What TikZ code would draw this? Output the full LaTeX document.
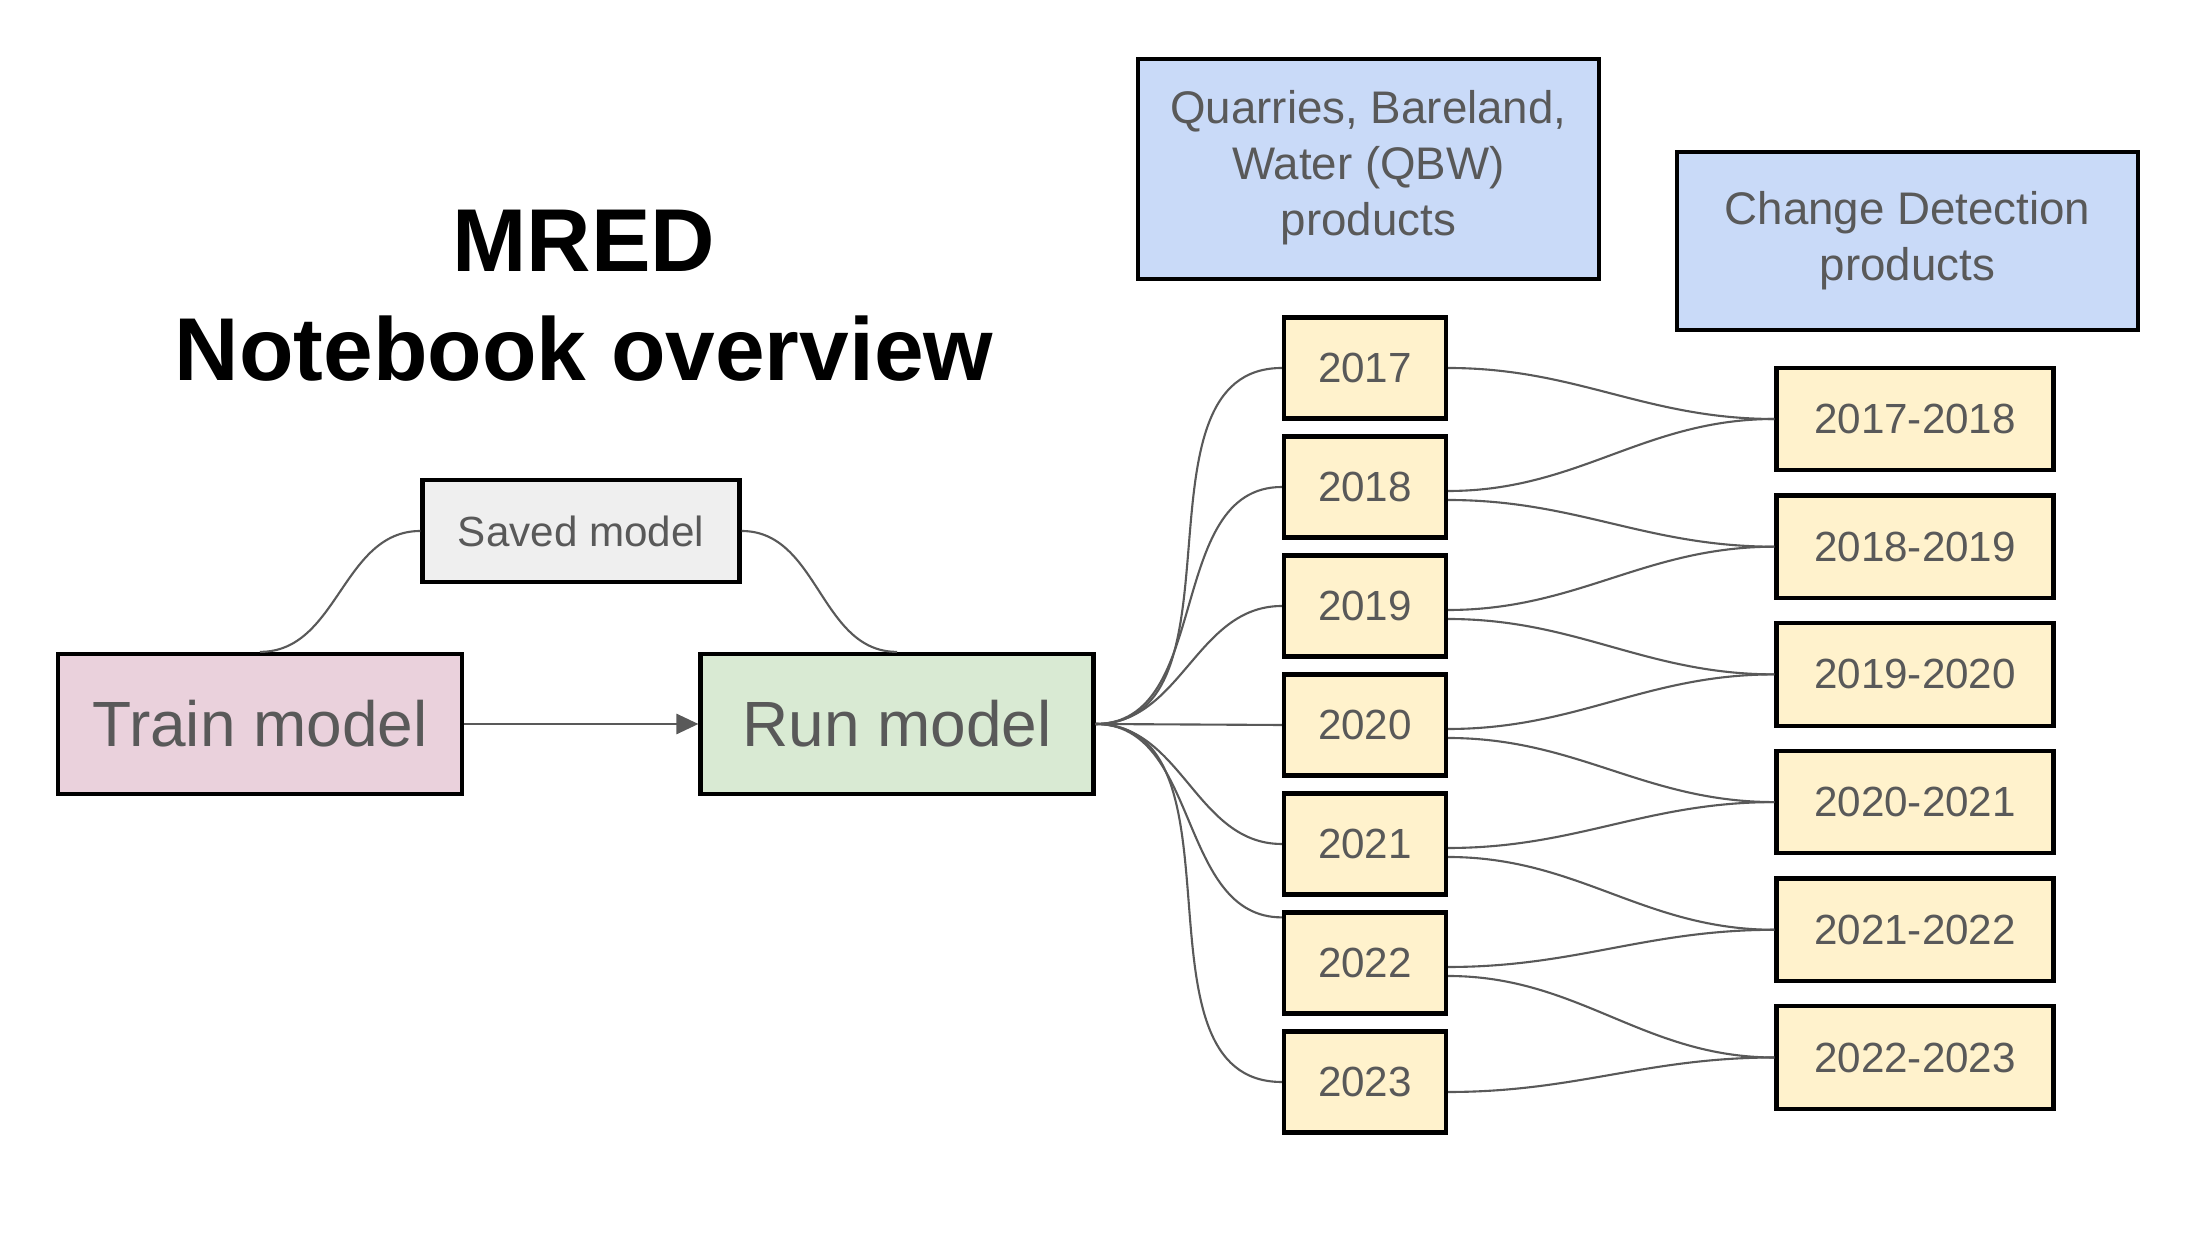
\documentclass[tikz,border=0pt]{standalone}
\usepackage{fontspec}
\setmainfont{Liberation Sans}
\usetikzlibrary{arrows.meta}

\definecolor{txtgray}{HTML}{595959}
\definecolor{wiregray}{HTML}{595959}
\definecolor{trainfill}{HTML}{EAD1DC}
\definecolor{runfill}{HTML}{D9EAD3}
\definecolor{savedfill}{HTML}{EFEFEF}
\definecolor{prodfill}{HTML}{C9DAF8}
\definecolor{yearfill}{HTML}{FFF2CC}

\tikzset{
  box/.style={draw=black,line width=1.2pt,text=txtgray,inner sep=0pt,align=center,
              font=\fontsize{12}{14.5}\selectfont},
  bigbox/.style={box,minimum height=1.40cm,font=\fontsize{18.2}{21}\selectfont},
  prodbox/.style={box,fill=prodfill,minimum width=4.61cm,font=\fontsize{13}{16}\selectfont},
  yearbox/.style={box,fill=yearfill,minimum width=1.62cm,minimum height=1.01cm},
  pairbox/.style={box,fill=yearfill,minimum width=2.77cm,minimum height=1.025cm},
  wire/.style={draw=wiregray,line width=0.6pt},
}

\begin{document}
\begin{tikzpicture}[>={Triangle[length=6.3pt,width=5.8pt]},node distance=1.19cm]
\useasboundingbox (0,0) rectangle (22.01,12.38);

\node[align=center,font=\fontsize{25.4}{31}\bfseries] (title) at (5.84,9.42) {MRED\\Notebook overview};

\node[bigbox,fill=trainfill,minimum width=4.04cm] (train) at (2.60,5.14) {Train model};
\node[bigbox,fill=runfill,minimum width=3.93cm]   (run)   at (8.97,5.14) {Run model};
\node[box,fill=savedfill,minimum width=3.17cm,minimum height=1.02cm] (saved) at (5.81,7.07) {Saved model};

\node[prodbox,minimum height=2.20cm,text depth=0.12cm] (qbw) at (13.685,10.69) {Quarries, Bareland,\\Water (QBW)\\products};
\node[prodbox,minimum height=1.78cm] (cd)  at (19.075,9.97)  {Change Detection\\products};

% yearly QBW products
\node[yearbox] (y2017) at (13.65,8.70) {2017};
\node[yearbox] (y2018) [below of=y2017] {2018};
\node[yearbox] (y2019) [below of=y2018] {2019};
\node[yearbox] (y2020) [below of=y2019] {2020};
\node[yearbox] (y2021) [below of=y2020] {2021};
\node[yearbox] (y2022) [below of=y2021] {2022};
\node[yearbox] (y2023) [below of=y2022] {2023};

% change detection pairs
\node[pairbox] (p1718) at (19.15,8.19) {2017-2018};
\node[pairbox,node distance=1.277cm] (p1819) [below of=p1718] {2018-2019};
\node[pairbox,node distance=1.277cm] (p1920) [below of=p1819] {2019-2020};
\node[pairbox,node distance=1.277cm] (p2021) [below of=p1920] {2020-2021};
\node[pairbox,node distance=1.277cm] (p2122) [below of=p2021] {2021-2022};
\node[pairbox,node distance=1.277cm] (p2223) [below of=p2122] {2022-2023};

\draw[wire,->] (train) -- (run);
\path[wire] (train.north) edge[out=0,in=180] (saved.west)
            (saved.east)  edge[out=0,in=180] (run.north);

\path[wire] (run.east) edge[out=0,in=180] (y2017.west)
                       edge[out=0,in=180] (y2018.west)
                       edge[out=0,in=180] (y2019.west)
                       edge (y2020.west)
                       edge[out=0,in=180] (y2021.west)
                       edge[out=0,in=180] ([yshift=-0.07cm]y2022.north west)
                       edge[out=0,in=180] (y2023.west);

\path[wire] (y2017.east) edge[out=0,in=180] (p1718.west)
            ([yshift=-0.04cm]y2018.east) edge[out=0,in=180] (p1718.west)
            ([yshift=-0.13cm]y2018.east) edge[out=0,in=180] (p1819.west)
            ([yshift=-0.04cm]y2019.east) edge[out=0,in=180] (p1819.west)
            ([yshift=-0.13cm]y2019.east) edge[out=0,in=180] (p1920.west)
            ([yshift=-0.04cm]y2020.east) edge[out=0,in=180] (p1920.west)
            ([yshift=-0.13cm]y2020.east) edge[out=0,in=180] (p2021.west)
            ([yshift=-0.04cm]y2021.east) edge[out=0,in=180] (p2021.west)
            ([yshift=-0.13cm]y2021.east) edge[out=0,in=180] (p2122.west)
            ([yshift=-0.04cm]y2022.east) edge[out=0,in=180] (p2122.west)
            ([yshift=-0.13cm]y2022.east) edge[out=0,in=180] (p2223.west)
            ([yshift=-0.10cm]y2023.east) edge[out=0,in=180] (p2223.west);

\end{tikzpicture}
\end{document}
